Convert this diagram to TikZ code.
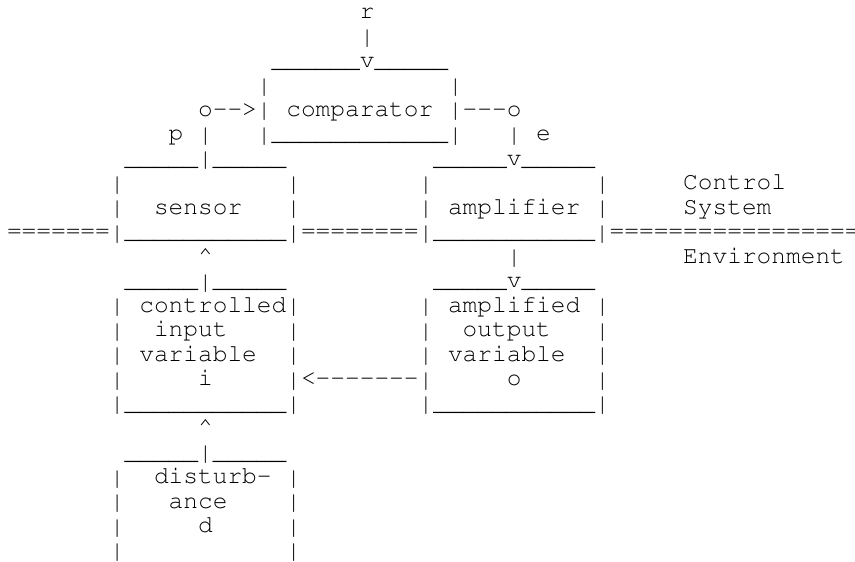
\documentclass[tikz,border=0pt]{standalone}
\usepackage[T1]{fontenc}
\usetikzlibrary{positioning}

\tikzset{
  tt/.style={anchor=base west, inner sep=0pt, outer sep=0pt,
    font=\fontencoding{T1}\fontfamily{pcr}\fontsize{24.5}{24.5}\selectfont},
}
% a run of n underscores / equal signs
\newcommand\us[1]{\foreach \k in {1,...,#1}{\_}}
\newcommand\eq[1]{\foreach \k in {1,...,#1}{=}}
% the bar glyph stretched to the full line height
\newcommand\vb{\raisebox{-0.32em}{\resizebox*{\width}{0.98em}{\raisebox{\depth}{|}}}}

\begin{document}
\begin{tikzpicture}[x=14.7pt, y=-24.5pt]
  \path[use as bounding box, clip] (-7pt,18pt) rectangle (848pt,-544pt);
  \fill[white] (-7pt,18pt) rectangle (848pt,-544pt);

  % reference input and comparator
  \node[tt] (r) at (24,0) {r};
  \node[tt] (r1) at (24,1) {\vb};
  \node[tt] (ctop) at (18,2) {\us{6}v\us{5}};
  \node[tt] (cl) at (17,3) {\vb};
  \node[tt] (cr) at (30,3) {\vb};
  \node[tt] (pin) at (13,4) {o-{}->\vb};
  \node[tt] (comparator) at (19,4) {comparator};
  \node[tt] (eout) at (30,4) {\vb-{}-{}-o};
  \node[tt] (p) at (11,5) {p};
  \node[tt] (p1) at (13,5) {\vb};
  \node[tt] (cbot) at (17,5) {\vb\us{12}\vb};
  \node[tt] (e1) at (34,5) {\vb};
  \node[tt] (e) at (36,5) {e};

  % sensor and amplifier
  \node[tt] (stop) at (8,6) {\us{5}\vb\us{5}};
  \node[tt] (atop) at (29,6) {\us{5}v\us{5}};
  \foreach \c in {7,19,28,40} {
    \node[tt] at (\c,7) {\vb};
    \node[tt] at (\c,8) {\vb};
  }
  \node[tt] (sensor) at (10,8) {sensor};
  \node[tt] (amplifier) at (30,8) {amplifier};
  \node[tt] (ctrl) at (46,7) {Control};
  \node[tt] (sys) at (46,8) {System};
  \node[tt] (border) at (0,9) {\eq{7}\vb\us{11}\vb\eq{8}\vb\us{11}\vb\eq{17}};
  \node[tt] (env) at (46,10) {Environment};

  % controlled input and amplified output
  \node[tt] (up1) at (13,10) {\textasciicircum};
  \node[tt] (a1) at (34,10) {\vb};
  \node[tt] (itop) at (8,11) {\us{5}\vb\us{5}};
  \node[tt] (otop) at (29,11) {\us{5}v\us{5}};
  \foreach \c in {7,19,28,40} {
    \foreach \y in {12,...,15}
      \node[tt] at (\c,\y) {\vb};
  }
  \node[tt] (i1) at (9,12) {controlled};
  \node[tt] (i2) at (10,13) {input};
  \node[tt] (i3) at (9,14) {variable};
  \node[tt] (i) at (13,15) {i};
  \node[tt] (o1) at (30,12) {amplified};
  \node[tt] (o2) at (31,13) {output};
  \node[tt] (o3) at (30,14) {variable};
  \node[tt] (o) at (34,15) {o};
  \node[tt] (back) at (20,15) {<-{}-{}-{}-{}-{}-{}-};
  \node[tt] (ibot) at (7,16) {\vb\us{11}\vb};
  \node[tt] (obot) at (28,16) {\vb\us{11}\vb};

  % disturbance
  \node[tt] (up2) at (13,17) {\textasciicircum};
  \node[tt] (dtop) at (8,18) {\us{5}\vb\us{5}};
  \foreach \c in {7,19} {
    \foreach \y in {19,...,22}
      \node[tt] at (\c,\y) {\vb};
  }
  \node[tt] (d1) at (10,19) {disturb-};
  \node[tt] (d2) at (11,20) {ance};
  \node[tt] (d) at (13,21) {d};
\end{tikzpicture}
\end{document}
